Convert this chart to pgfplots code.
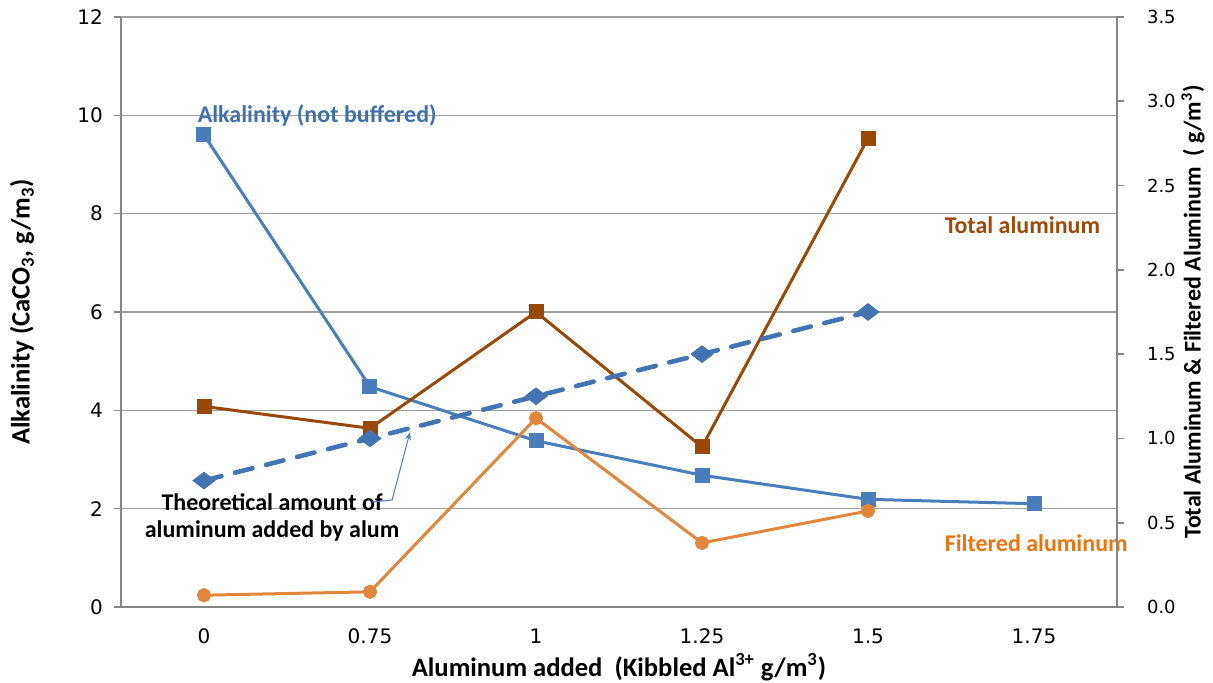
\documentclass[border=0pt]{standalone}
\usepackage{fontspec}
\setmainfont{Carlito}
\newfontfamily\tickfont{DejaVu Sans}
\usepackage{pgfplots}
\pgfplotsset{compat=1.18}
\usetikzlibrary{arrows.meta}
\definecolor{alkline}{HTML}{4A7EBB}
\definecolor{alktext}{HTML}{4070AA}
\definecolor{totline}{HTML}{984807}
\definecolor{tottext}{HTML}{9C4A0A}
\definecolor{filline}{HTML}{E2853D}
\definecolor{filtext}{HTML}{E8750F}
\definecolor{theoline}{HTML}{4373B0}
\definecolor{axgray}{HTML}{868686}
\definecolor{gridgray}{HTML}{A0A0A0}
\newcommand{\lblfont}{\bfseries\fontsize{12}{14}\selectfont}
\pgfplotsset{
  common/.style={
    at={(0,0)}, anchor=south west, scale only axis,
    width=498pt, height=295pt,
    xmin=-0.5, xmax=5.5,
    /pgf/number format/assume math mode=true,
    tick align=outside,
    major tick length=3.5pt,
    tick style={color=axgray, line width=0.8pt},
    axis line style={color=axgray, line width=1.1pt},
    ticklabel style={font=\tickfont\fontsize{10}{11}\selectfont},
  }
}
\begin{document}
\begin{tikzpicture}
\begin{axis}[common,
  axis x line*=bottom, axis y line*=left,
  ymin=0, ymax=12, ytick={0,2,...,12},
  xtick={0,...,5}, xticklabels={0,0.75,1,1.25,1.5,1.75},
  xtick style={draw=none},
  extra x ticks={-0.5,0.5,1.5,2.5,3.5,4.5,5.5},
  extra x tick labels={},
  extra x tick style={tick style={color=axgray, line width=0.8pt}, major tick length=3.5pt, grid=none},
  xticklabel style={yshift=-4pt},
  yticklabel style={xshift=-2pt},
  ymajorgrids, grid style={color=gridgray, line width=0.7pt},
  xlabel={Aluminum added\ \ (Kibbled Al\textsuperscript{3+} g/m\textsuperscript{3})},
  ylabel={Alkalinity (CaCO\textsubscript{3}, g/m\textsubscript{3})},
  every axis x label/.style={at={(axis description cs:0.5,-0.1017)}, anchor=center, font=\bfseries\fontsize{13.3}{15}\selectfont},
  every axis y label/.style={at={(axis description cs:-0.0994,0.5)}, rotate=90, anchor=center, font=\bfseries\fontsize{13.3}{15}\selectfont},
  clip=false,
]
\addplot[color=alkline, line width=1.5pt, mark=square*, mark size=3pt, mark options={fill=alkline, draw=alkline}]
  coordinates {(0,9.6) (1,4.48) (2,3.38) (3,2.68) (4,2.19) (5,2.1)};
\node[anchor=west, font=\lblfont, text=alktext, inner sep=0pt] at (axis cs:-0.04,10.0) {Alkalinity (not buffered)};
\node[anchor=west, font=\lblfont, text=tottext, inner sep=0pt] at (axis cs:4.46,7.77) {Total aluminum};
\node[anchor=west, font=\lblfont, text=filtext, inner sep=0pt] at (axis cs:4.46,1.30) {Filtered aluminum};
\node[align=center, font=\bfseries\fontsize{12}{13.5}\selectfont, inner sep=0pt] at (axis cs:0.41,1.83) {Theoretical amount of\\aluminum added by alum};
\draw[color=alkline, line width=0.5pt, -{Stealth[length=4pt]}] (axis cs:1.012,2.135) -- (axis cs:1.133,2.176) -- (axis cs:1.241,3.56);
\end{axis}
\begin{axis}[common,
  axis x line=none, axis y line*=right,
  ymin=0, ymax=3.5, ytick={0,0.5,...,3.5},
  yticklabel style={/pgf/number format/.cd, fixed, fixed zerofill, precision=1, /tikz/.cd, xshift=8pt, font=\tickfont\fontsize{9}{10}\selectfont},
  ylabel={Total Aluminum \& Filtered Aluminum\ \ ( g/m\textsuperscript{3})},
  every axis y label/.style={at={(axis description cs:1.0763,0.5)}, rotate=90, anchor=center, font=\lblfont},
]
\addplot[color=filline, line width=1.5pt, mark=*, mark size=2.8pt, mark options={fill=filline, draw=filline}]
  coordinates {(0,0.07) (1,0.09) (2,1.12) (3,0.38) (4,0.57)};
\addplot[color=totline, line width=1.5pt, mark=square*, mark size=3pt, mark options={fill=totline, draw=totline}]
  coordinates {(0,1.19) (1,1.06) (2,1.75) (3,0.95) (4,2.78)};
\addplot[color=theoline, line width=2.3pt, dash pattern=on 9pt off 7pt, line cap=round, mark=diamond*, mark size=3pt, mark options={solid, fill=theoline, draw=theoline, xscale=1.75}]
  coordinates {(0,0.75) (1,1.0) (2,1.25) (3,1.5) (4,1.75)};
\end{axis}
\pgfresetboundingbox
\path (-60.5pt,-38pt) rectangle (546pt,303.5pt);
\end{tikzpicture}
\end{document}
